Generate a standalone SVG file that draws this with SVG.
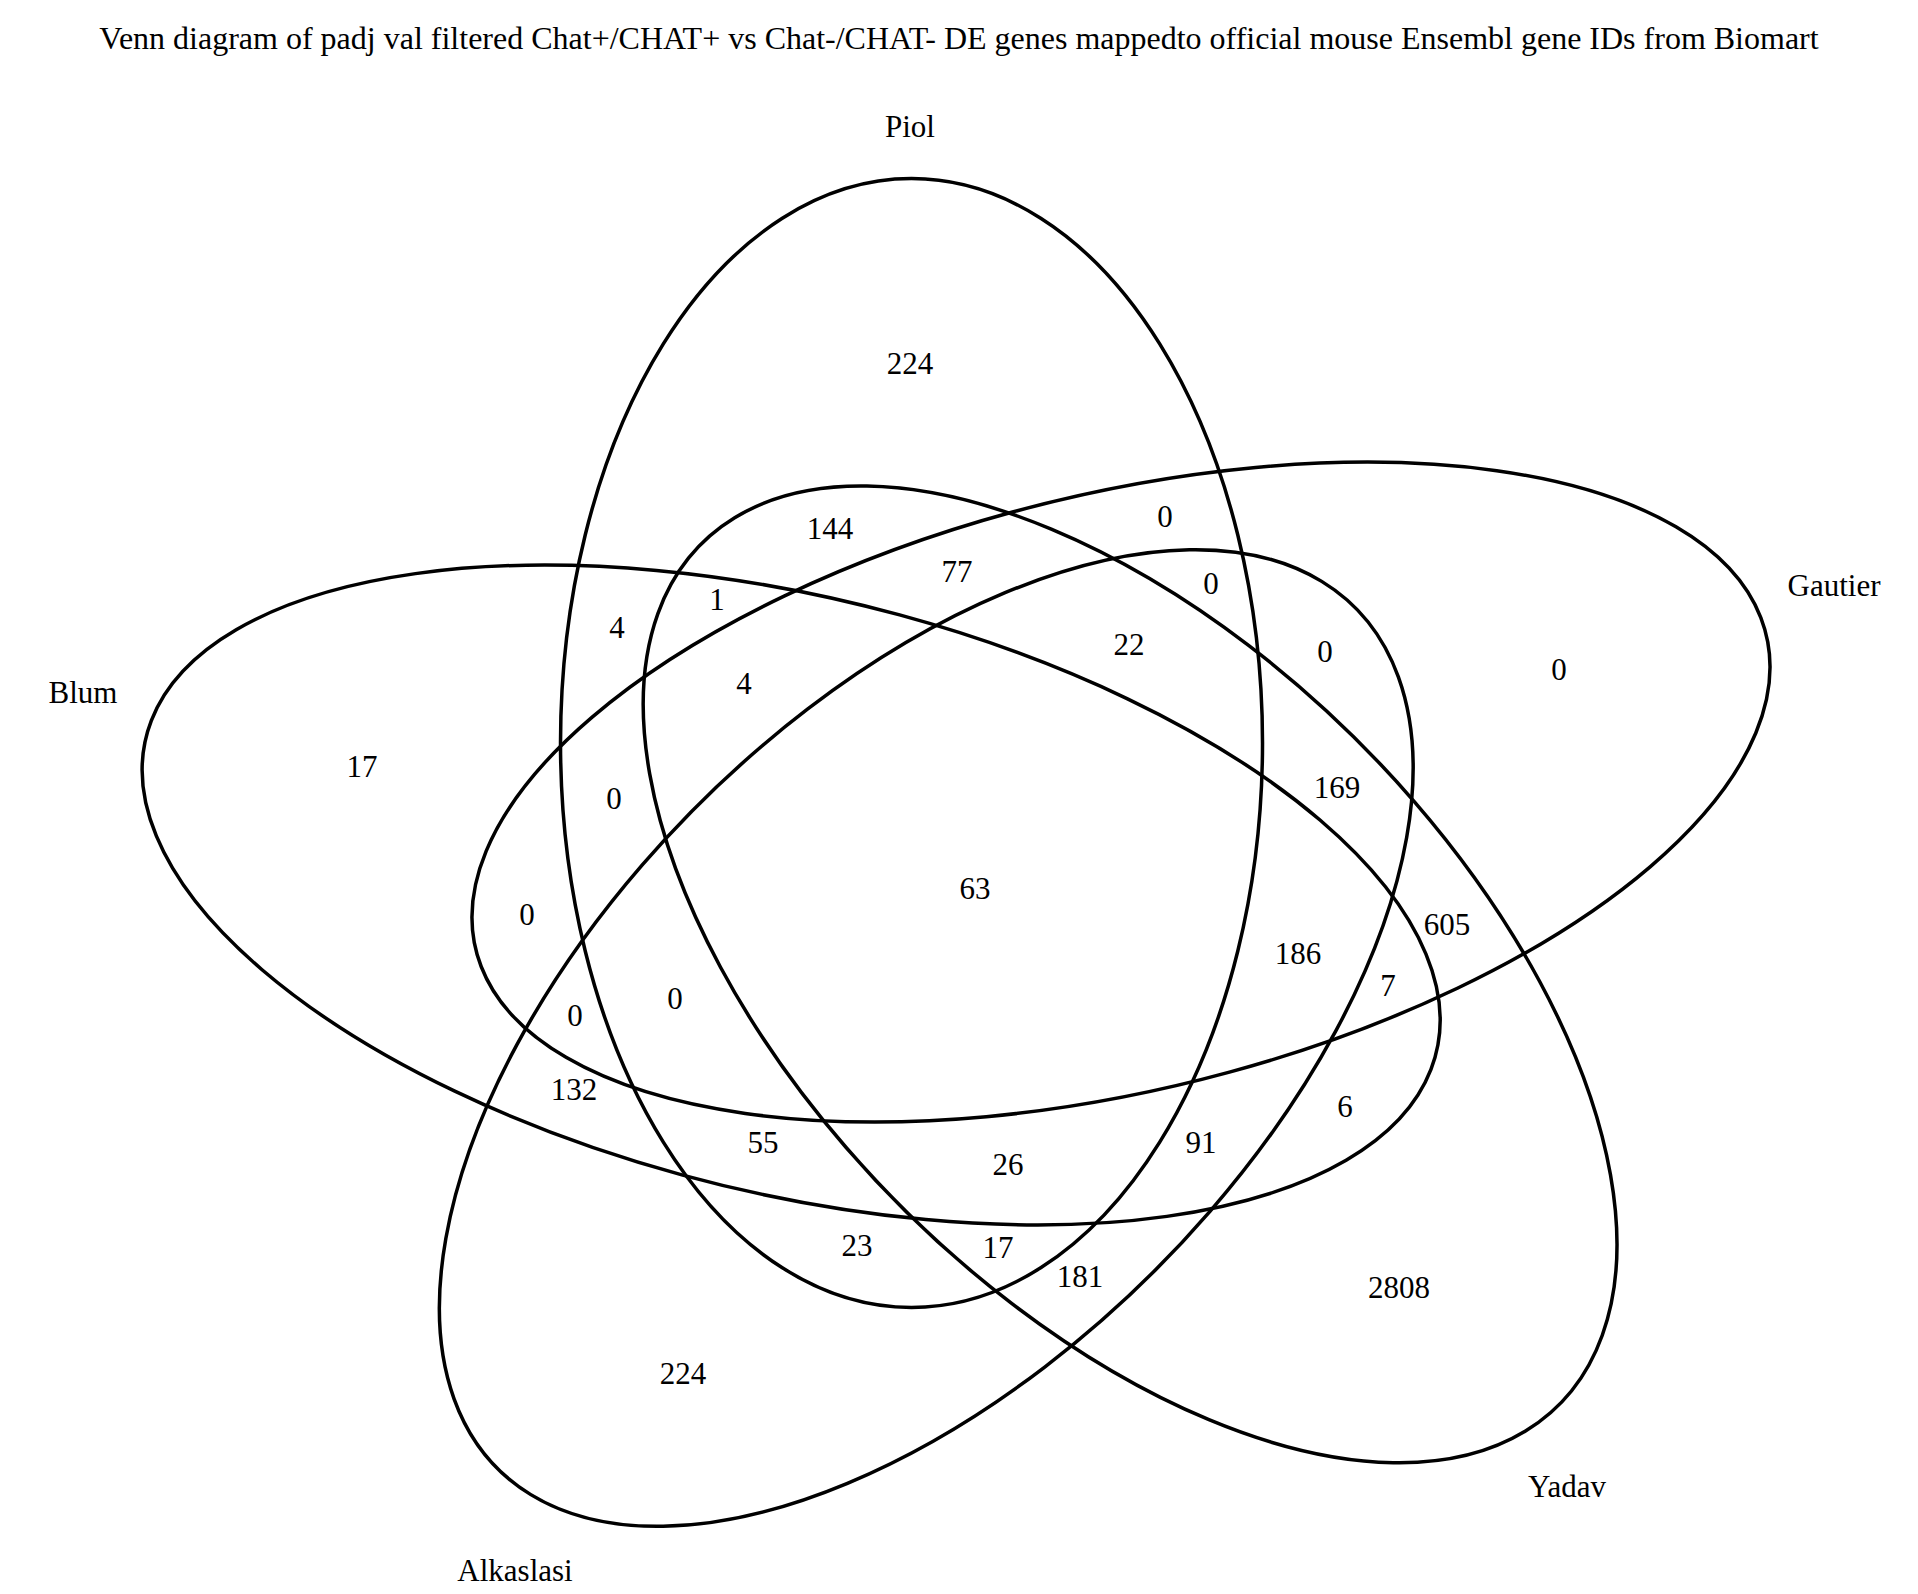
<svg xmlns="http://www.w3.org/2000/svg" width="1918" height="1594" viewBox="0 0 1918 1594">
<style>
.set{fill:none;stroke:#000;stroke-width:3.5;vector-effect:non-scaling-stroke}
text{font-family:"Liberation Serif","Times New Roman",serif;font-size:31px;fill:#000;text-anchor:middle}
.title{font-size:32px}
</style>
<rect width="1918" height="1594" fill="#fff"/>
<text class="title" x="959" y="49">Venn diagram of padj val filtered Chat+/CHAT+ vs Chat-/CHAT- DE genes mappedto official mouse Ensembl gene IDs from Biomart</text>
<g id="set-piol">
<g transform="translate(976 888.5) scale(1462.5 -1227)"><ellipse class="set" cx="-0.044094" cy="0.118566" rx="0.24" ry="0.46"/></g>
<text x="910" y="137">Piol</text>
</g>
<g id="set-gautier">
<g transform="translate(976 888.5) scale(1462.5 -1227)"><ellipse class="set" cx="0.099137" cy="0.078575" rx="0.24" ry="0.46" transform="rotate(-72 0.099137 0.078575)"/></g>
<text x="1834" y="596">Gautier</text>
</g>
<g id="set-yadav">
<g transform="translate(976 888.5) scale(1462.5 -1227)"><ellipse class="set" cx="0.105364" cy="-0.070004" rx="0.24" ry="0.46" transform="rotate(-144 0.105364 -0.070004)"/></g>
<text x="1567" y="1497">Yadav</text>
</g>
<g id="set-alkaslasi">
<g transform="translate(976 888.5) scale(1462.5 -1227)"><ellipse class="set" cx="-0.034018" cy="-0.121840" rx="0.24" ry="0.46" transform="rotate(-216 -0.034018 -0.121840)"/></g>
<text x="515" y="1581">Alkaslasi</text>
</g>
<g id="set-blum">
<g transform="translate(976 888.5) scale(1462.5 -1227)"><ellipse class="set" cx="-0.126389" cy="-0.005297" rx="0.24" ry="0.46" transform="rotate(-288 -0.126389 -0.005297)"/></g>
<text x="83" y="703">Blum</text>
</g>
<g id="connectors"></g>
<g id="counts">
<text x="910" y="373.5">224</text>
<text x="830" y="539">144</text>
<text x="957" y="581.5">77</text>
<text x="717" y="610">1</text>
<text x="617" y="637.5">4</text>
<text x="744" y="694">4</text>
<text x="614" y="809">0</text>
<text x="362" y="777">17</text>
<text x="527" y="924.5">0</text>
<text x="575" y="1026">0</text>
<text x="675" y="1008.5">0</text>
<text x="574" y="1100">132</text>
<text x="763" y="1152.5">55</text>
<text x="857" y="1255.5">23</text>
<text x="683" y="1383.5">224</text>
<text x="975" y="899">63</text>
<text x="1008" y="1175">26</text>
<text x="998" y="1258">17</text>
<text x="1080" y="1286.5">181</text>
<text x="1399" y="1297.5">2808</text>
<text x="1201" y="1153">91</text>
<text x="1345" y="1116.5">6</text>
<text x="1388" y="995.5">7</text>
<text x="1298" y="964">186</text>
<text x="1447" y="934.5">605</text>
<text x="1337" y="797.5">169</text>
<text x="1559" y="679.5">0</text>
<text x="1325" y="661.5">0</text>
<text x="1129" y="654.5">22</text>
<text x="1211" y="594">0</text>
<text x="1165" y="527">0</text>
</g>
</svg>
